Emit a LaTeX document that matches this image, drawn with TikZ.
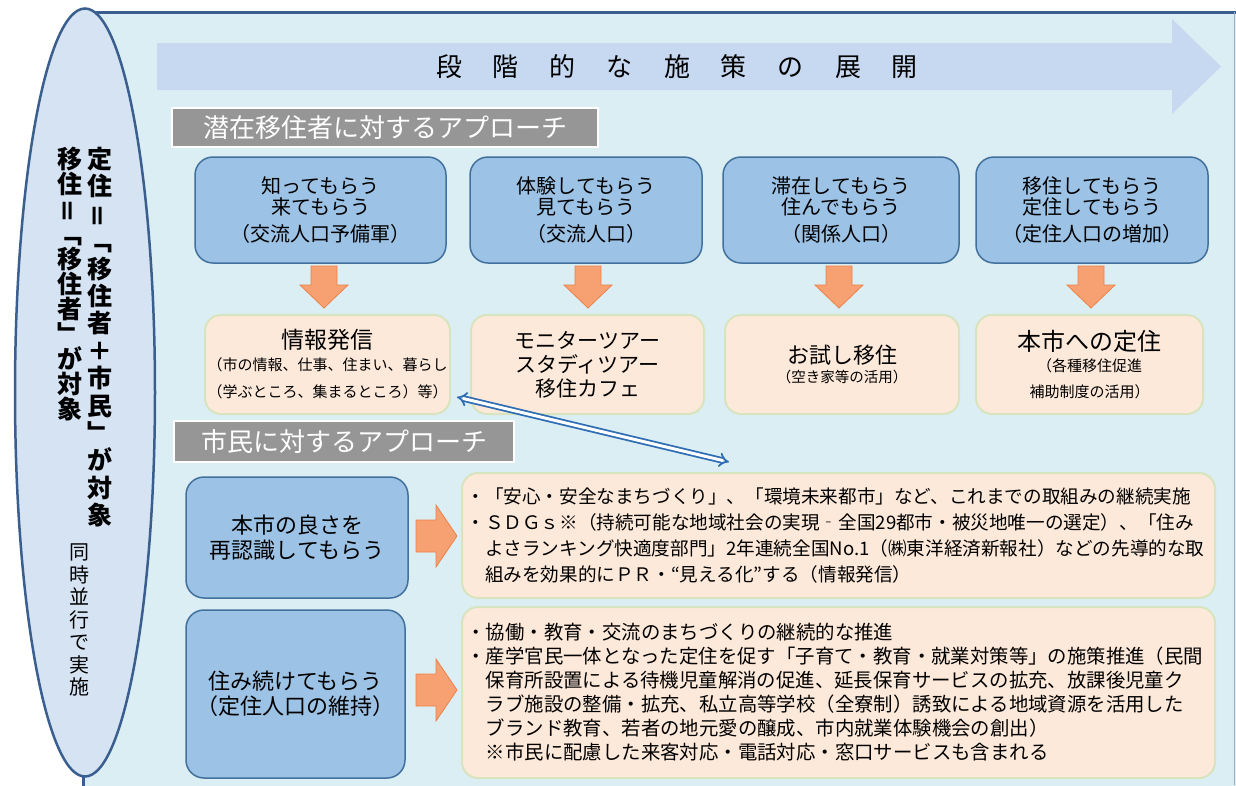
\documentclass[tikz,border=0pt]{standalone}
\usepackage{fontspec}
\setmainfont{Noto Sans CJK JP}
\usepackage{graphicx}
\usetikzlibrary{arrows.meta,shapes.geometric}
\definecolor{panel}{HTML}{DBEEF4}
\definecolor{panelborder}{HTML}{3A5F8E}
\definecolor{ellfill}{HTML}{D5E3F3}
\definecolor{bigarrow}{HTML}{C6D9F1}
\definecolor{bluefill}{HTML}{9CC2E5}
\definecolor{blueborder}{HTML}{41719C}
\definecolor{peach}{HTML}{FDE9D9}
\definecolor{peachborder}{HTML}{D7E4BD}
\definecolor{hgray}{HTML}{969696}
\definecolor{orangefill}{HTML}{F7A072}
\definecolor{orangeborder}{HTML}{EE8246}
\definecolor{dblue}{HTML}{2E6DB4}
\newcommand\vrot[1]{\rotatebox[origin=c]{90}{#1}}
\newcommand\tgap{\hspace{31pt}}
\newcommand\fs[2]{\fontsize{#1}{#2}\selectfont}
\begin{document}
\begin{tikzpicture}[x=1pt,y=-1pt,
  bluebox/.style={rounded corners=18pt, fill=bluefill, draw=blueborder, line width=1.5pt, align=center, inner sep=0pt},
  peachbox/.style={rounded corners=16pt, fill=peach, draw=peachborder, line width=2pt, align=center, inner sep=0pt},
  header/.style={fill=hgray, draw=white, line width=2pt, text=white, inner sep=0pt, font=\fs{26}{28}},
  vtext/.style={align=center, inner sep=0pt, anchor=north},
  dbl/.style={draw=dblue, line width=1.8pt, double=white, double distance=3pt, {Implies}-{Implies}},
  downarr/.pic={\draw[draw=orangeborder, fill=orangefill, line width=0.8pt] (-13,0) -- (13,0) -- (13,19) -- (24,19) -- (0,42) -- (-24,19) -- (-13,19) -- cycle;},
  rightarr/.pic={\draw[draw=orangeborder, fill=orangefill, line width=0.8pt] (0,-16) -- (20,-16) -- (20,-31) -- (41,0) -- (20,31) -- (20,16) -- (0,16) -- cycle;}
]
\useasboundingbox (0,0) rectangle (1236,785);
\fill[white] (0,0) rectangle (1236,785);
% panel
\fill[panel] (83,12) rectangle (1236,790);
\draw[panelborder, line width=3pt] (83,790) -- (83,12) -- (1236,12);
\draw[panelborder!50, line width=0.8pt] (1234,12) -- (1234,785);
% ellipse
\node[ellipse, draw=panelborder, fill=ellfill, line width=2.5pt, minimum width=140pt, minimum height=768pt, inner sep=0pt] (ell) at (85,392.5) {};
\node[vtext, font=\bfseries\fs{25}{27.4}] (vc1) at (100,147) {定\\住\\\vrot{＝}\\﹁\\移\\住\\者\\＋\\市\\民\\﹂\\が\\対\\象};
\node[vtext, font=\bfseries\fs{25}{25}] (vc2) at (70,147) {移\\住\\\vrot{＝}\\﹁\\移\\住\\者\\﹂\\が\\対\\象};
\node[vtext, font=\fs{20}{22.5}] (vc3) at (79,544) {同\\時\\並\\行\\で\\実\\施};
% big arrow
\fill[bigarrow] (157,43) -- (1172,43) -- (1172,19) -- (1221,66.5) -- (1172,114) -- (1172,90) -- (157,90) -- cycle;
\node[font=\fs{26}{28}, inner sep=0pt] (title) at (677,67) {段\tgap 階\tgap 的\tgap な\tgap 施\tgap 策\tgap の\tgap 展\tgap 開};
% headers
\node[header, minimum width=426pt, minimum height=39pt] (h1) at (385,127.5) {潜在移住者に対するアプローチ};
\node[header, minimum width=340pt, minimum height=41pt] (h2) at (344,441.5) {市民に対するアプローチ};
% top row blue boxes
\node[bluebox, minimum width=251pt, minimum height=106pt, font=\fs{20}{21}] (b1) at (320.5,210) {知ってもらう\\来てもらう\\[6pt]（交流人口予備軍）};
\node[bluebox, minimum width=232pt, minimum height=106pt, font=\fs{20}{21}] (b2) at (586,210) {体験してもらう\\見てもらう\\[6pt]（交流人口）};
\node[bluebox, minimum width=236pt, minimum height=106pt, font=\fs{20}{21}] (b3) at (841,210) {滞在してもらう\\住んでもらう\\[6pt]（関係人口）};
\node[bluebox, minimum width=232pt, minimum height=106pt, font=\fs{20}{21}] (b4) at (1092,210) {移住してもらう\\定住してもらう\\[6pt]（定住人口の増加）};
% down arrows
\pic at (324,266) {downarr};
\pic at (588,266) {downarr};
\pic at (839,266) {downarr};
\pic at (1091,266) {downarr};
% peach row
\node[peachbox, minimum width=245pt, minimum height=99pt] (p1) at (327.5,364.5) {{\fs{23}{25}情報発信}\\[6pt]{\fs{15}{17}（市の情報、仕事、住まい、暮らし}\\[12pt]{\fs{15}{17}（学ぶところ、集まるところ）等）}};
\node[peachbox, minimum width=233pt, minimum height=99pt, font=\fs{21}{24}] (p2) at (587.5,364.5) {モニターツアー\\スタディツアー\\移住カフェ};
\node[peachbox, minimum width=234pt, minimum height=99pt] (p3) at (842,364.5) {{\fs{22}{24}お試し移住}\\[4pt]{\fs{14.5}{16}（空き家等の活用）}};
\node[peachbox, minimum width=227pt, minimum height=99pt] (p4) at (1089.5,364.5) {{\fs{24}{26}本市への定住}\\[5pt]{\fs{15}{17}（各種移住促進}\\[10pt]{\fs{15}{17}補助制度の活用）}};
% citizens section
\node[bluebox, minimum width=222pt, minimum height=121pt, font=\fs{22}{25}] (b5) at (297,537.5) {本市の良さを\\再認識してもらう};
\node[bluebox, minimum width=219pt, minimum height=168pt, font=\fs{22}{25}] (b6) at (295.5,694) {住み続けてもらう\\（定住人口の維持）};
\node[peachbox, minimum width=753pt, minimum height=125pt, text width=744pt, align=left, font=\fs{18.6}{26}] (p5) at (838.5,535.5) {・「安心・安全なまちづくり」、「環境未来都市」など、これまでの取組みの継続実施\\・ＳＤＧｓ※（持続可能な地域社会の実現‐全国29都市・被災地唯一の選定）、「住み\\　よさランキング快適度部門」2年連続全国No.1（㈱東洋経済新報社）などの先導的な取\\　組みを効果的にＰＲ・“見える化”する（情報発信）};
\node[peachbox, minimum width=753pt, minimum height=171pt, text width=744pt, align=left, font=\fs{19.4}{24}] (p6) at (838.5,692.5) {・協働・教育・交流のまちづくりの継続的な推進\\・産学官民一体となった定住を促す「子育て・教育・就業対策等」の施策推進（民間\\　保育所設置による待機児童解消の促進、延長保育サービスの拡充、放課後児童ク\\　ラブ施設の整備・拡充、私立高等学校（全寮制）誘致による地域資源を活用した\\　ブランド教育、若者の地元愛の醸成、市内就業体験機会の創出）\\　※市民に配慮した来客対応・電話対応・窓口サービスも含まれる};
% right arrows
\pic at (416,536) {rightarr};
\pic at (416,690) {rightarr};
% double arrow
\coordinate (da1) at (457,397);
\coordinate (da2) at (729,462);
\draw[dbl] (da1) -- (da2);
\end{tikzpicture}
\end{document}
